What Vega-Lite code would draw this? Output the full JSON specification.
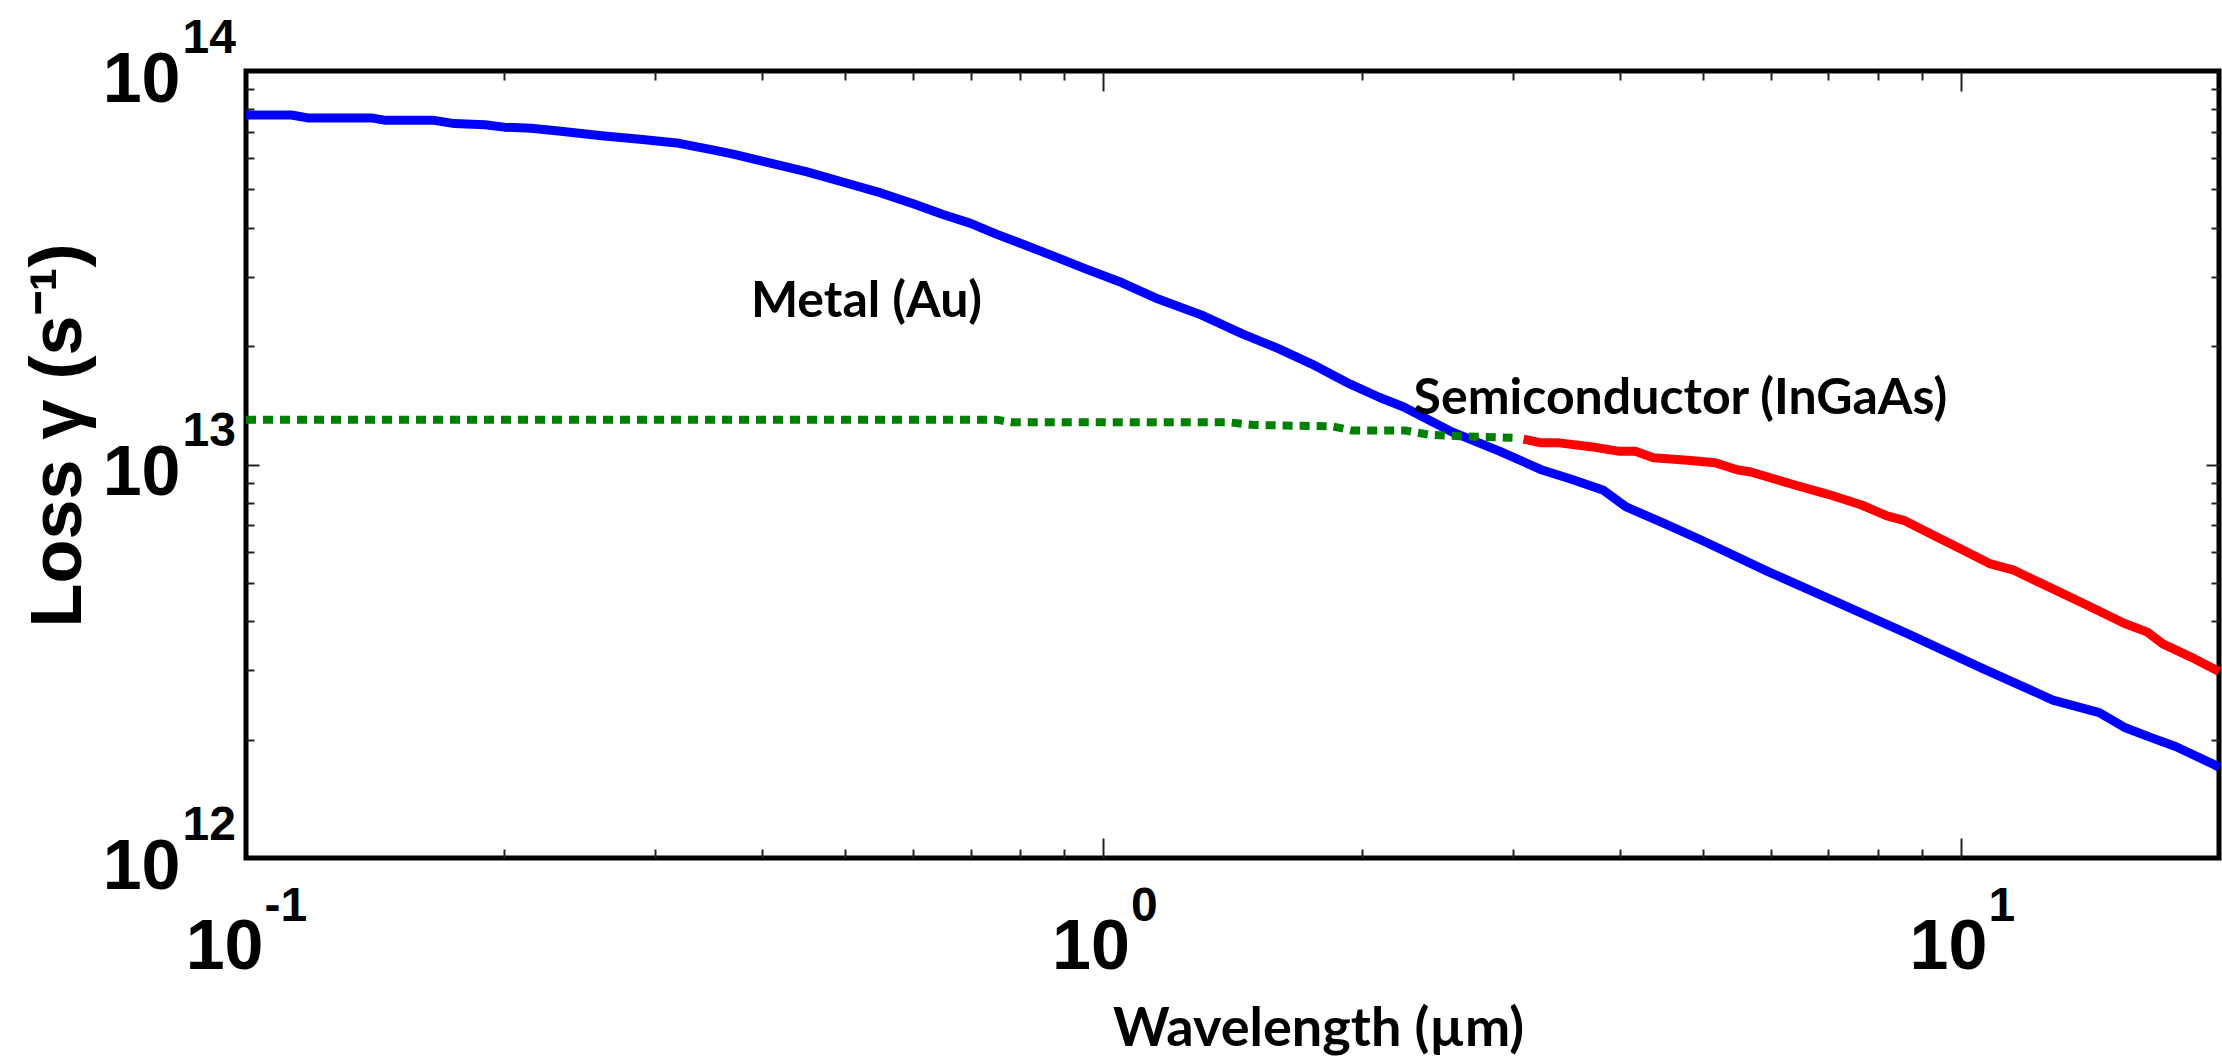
{
  "$schema": "https://vega.github.io/schema/vega-lite/v6.json",
  "width": 1973,
  "height": 787,
  "autosize": {"type": "none"},
  "padding": {"left": 246, "top": 71, "right": 3, "bottom": 206},
  "background": "white",
  "config": {
    "view": {"stroke": "black", "strokeWidth": 5},
    "axis": {"grid": false, "domain": false, "labelFlush": false, "labelOverlap": false, "labelBound": false, "labelColor": "black", "titleColor": "black", "labelFont": "Liberation Sans", "labelFontWeight": "bold"}
  },
  "datasets": {
    "curves": [
      {"series": "metal", "wavelength": 0.1, "loss": 7.73e13},
      {"series": "metal", "wavelength": 0.113, "loss": 7.73e13},
      {"series": "metal", "wavelength": 0.118, "loss": 7.6e13},
      {"series": "metal", "wavelength": 0.14, "loss": 7.6e13},
      {"series": "metal", "wavelength": 0.145, "loss": 7.5e13},
      {"series": "metal", "wavelength": 0.165, "loss": 7.5e13},
      {"series": "metal", "wavelength": 0.175, "loss": 7.35e13},
      {"series": "metal", "wavelength": 0.19, "loss": 7.3e13},
      {"series": "metal", "wavelength": 0.2, "loss": 7.2e13},
      {"series": "metal", "wavelength": 0.215, "loss": 7.15e13},
      {"series": "metal", "wavelength": 0.23, "loss": 7.05e13},
      {"series": "metal", "wavelength": 0.26, "loss": 6.85e13},
      {"series": "metal", "wavelength": 0.29, "loss": 6.7e13},
      {"series": "metal", "wavelength": 0.32, "loss": 6.55e13},
      {"series": "metal", "wavelength": 0.35, "loss": 6.3e13},
      {"series": "metal", "wavelength": 0.37, "loss": 6.15e13},
      {"series": "metal", "wavelength": 0.4, "loss": 5.9e13},
      {"series": "metal", "wavelength": 0.45, "loss": 5.55e13},
      {"series": "metal", "wavelength": 0.5, "loss": 5.2e13},
      {"series": "metal", "wavelength": 0.55, "loss": 4.9e13},
      {"series": "metal", "wavelength": 0.6, "loss": 4.6e13},
      {"series": "metal", "wavelength": 0.65, "loss": 4.32e13},
      {"series": "metal", "wavelength": 0.7, "loss": 4.1e13},
      {"series": "metal", "wavelength": 0.75, "loss": 3.85e13},
      {"series": "metal", "wavelength": 0.8, "loss": 3.65e13},
      {"series": "metal", "wavelength": 0.87, "loss": 3.4e13},
      {"series": "metal", "wavelength": 0.95, "loss": 3.15e13},
      {"series": "metal", "wavelength": 1.05, "loss": 2.9e13},
      {"series": "metal", "wavelength": 1.15, "loss": 2.65e13},
      {"series": "metal", "wavelength": 1.3, "loss": 2.4e13},
      {"series": "metal", "wavelength": 1.45, "loss": 2.15e13},
      {"series": "metal", "wavelength": 1.6, "loss": 1.97e13},
      {"series": "metal", "wavelength": 1.75, "loss": 1.8e13},
      {"series": "metal", "wavelength": 1.94, "loss": 1.6e13},
      {"series": "metal", "wavelength": 2.1, "loss": 1.48e13},
      {"series": "metal", "wavelength": 2.24, "loss": 1.4e13},
      {"series": "metal", "wavelength": 2.55, "loss": 1.21e13},
      {"series": "metal", "wavelength": 2.9, "loss": 1.08e13},
      {"series": "metal", "wavelength": 3.24, "loss": 9.7e12},
      {"series": "metal", "wavelength": 3.5, "loss": 9.2e12},
      {"series": "metal", "wavelength": 3.83, "loss": 8.6e12},
      {"series": "metal", "wavelength": 4.07, "loss": 7.8e12},
      {"series": "metal", "wavelength": 4.5, "loss": 7.1e12},
      {"series": "metal", "wavelength": 5.0, "loss": 6.4e12},
      {"series": "metal", "wavelength": 5.95, "loss": 5.35e12},
      {"series": "metal", "wavelength": 7.2, "loss": 4.45e12},
      {"series": "metal", "wavelength": 8.7, "loss": 3.7e12},
      {"series": "metal", "wavelength": 10.5, "loss": 3.06e12},
      {"series": "metal", "wavelength": 11.5, "loss": 2.8e12},
      {"series": "metal", "wavelength": 12.8, "loss": 2.52e12},
      {"series": "metal", "wavelength": 14.5, "loss": 2.34e12},
      {"series": "metal", "wavelength": 15.5, "loss": 2.15e12},
      {"series": "metal", "wavelength": 16.7, "loss": 2.02e12},
      {"series": "metal", "wavelength": 17.8, "loss": 1.92e12},
      {"series": "metal", "wavelength": 19.6, "loss": 1.74e12},
      {"series": "metal", "wavelength": 20, "loss": 1.7e12},
      {"series": "semi_low", "wavelength": 0.1, "loss": 1.3e13},
      {"series": "semi_low", "wavelength": 0.75, "loss": 1.3e13},
      {"series": "semi_low", "wavelength": 0.78, "loss": 1.28e13},
      {"series": "semi_low", "wavelength": 1.4, "loss": 1.28e13},
      {"series": "semi_low", "wavelength": 1.5, "loss": 1.26e13},
      {"series": "semi_low", "wavelength": 1.85, "loss": 1.25e13},
      {"series": "semi_low", "wavelength": 1.95, "loss": 1.22e13},
      {"series": "semi_low", "wavelength": 2.25, "loss": 1.22e13},
      {"series": "semi_low", "wavelength": 2.4, "loss": 1.19e13},
      {"series": "semi_low", "wavelength": 2.6, "loss": 1.18e13},
      {"series": "semi_low", "wavelength": 3.0, "loss": 1.17e13},
      {"series": "semi_high", "wavelength": 3.09, "loss": 1.16e13},
      {"series": "semi_high", "wavelength": 3.24, "loss": 1.135e13},
      {"series": "semi_high", "wavelength": 3.4, "loss": 1.135e13},
      {"series": "semi_high", "wavelength": 3.7, "loss": 1.11e13},
      {"series": "semi_high", "wavelength": 4.0, "loss": 1.08e13},
      {"series": "semi_high", "wavelength": 4.17, "loss": 1.08e13},
      {"series": "semi_high", "wavelength": 4.38, "loss": 1.04e13},
      {"series": "semi_high", "wavelength": 4.8, "loss": 1.025e13},
      {"series": "semi_high", "wavelength": 5.17, "loss": 1.01e13},
      {"series": "semi_high", "wavelength": 5.48, "loss": 9.7e12},
      {"series": "semi_high", "wavelength": 5.69, "loss": 9.57e12},
      {"series": "semi_high", "wavelength": 6.4, "loss": 8.87e12},
      {"series": "semi_high", "wavelength": 7.0, "loss": 8.4e12},
      {"series": "semi_high", "wavelength": 7.66, "loss": 7.89e12},
      {"series": "semi_high", "wavelength": 8.2, "loss": 7.4e12},
      {"series": "semi_high", "wavelength": 8.6, "loss": 7.2e12},
      {"series": "semi_high", "wavelength": 9.3, "loss": 6.6e12},
      {"series": "semi_high", "wavelength": 10, "loss": 6.1e12},
      {"series": "semi_high", "wavelength": 10.8, "loss": 5.6e12},
      {"series": "semi_high", "wavelength": 11.5, "loss": 5.4e12},
      {"series": "semi_high", "wavelength": 12.5, "loss": 4.95e12},
      {"series": "semi_high", "wavelength": 14, "loss": 4.4e12},
      {"series": "semi_high", "wavelength": 15.5, "loss": 3.95e12},
      {"series": "semi_high", "wavelength": 16.5, "loss": 3.75e12},
      {"series": "semi_high", "wavelength": 17.2, "loss": 3.5e12},
      {"series": "semi_high", "wavelength": 18.5, "loss": 3.25e12},
      {"series": "semi_high", "wavelength": 20, "loss": 2.98e12}
    ],
    "notes": [
      {"note": "Metal (Au)", "wavelength": 0.388, "loss": 2.37e13},
      {"note": "Semiconductor (InGaAs)", "wavelength": 2.3, "loss": 1.34e13}
    ]
  },
  "resolve": {"axis": {"x": "independent", "y": "independent"}},
  "layer": [
    {
      "data": {"name": "curves"},
      "transform": [{"filter": "datum.series == 'metal'"}],
      "mark": {"type": "line", "color": "#0000ff", "strokeWidth": 9, "strokeCap": "butt", "strokeJoin": "round"},
      "encoding": {
        "x": {"field": "wavelength", "type": "quantitative", "scale": {"type": "log", "domain": [0.1, 20], "nice": false},
          "axis": {"orient": "bottom", "values": [0.1, 1, 10], "labelExpr": "'10'", "ticks": false, "tickSize": 0,
            "labelFontSize": 70, "labelAlign": "right", "labelBaseline": "alphabetic", "labelPadding": 110,
            "labelOffset": {"condition": {"test": "datum.value < 0.5", "value": 17}, "value": 26},
            "title": "Wavelength (µm)", "titleFont": "Lato", "titleFontWeight": "bold", "titleFontSize": 54,
            "titleX": 1072, "titleY": 187, "titleAlign": "center", "titleBaseline": "alphabetic"}},
        "y": {"field": "loss", "type": "quantitative", "scale": {"type": "log", "domain": [1e12, 1e14], "nice": false},
          "axis": {"orient": "left", "values": [1e12, 1e13, 1e14], "labelExpr": "'10'", "ticks": false, "tickSize": 0,
            "labelFontSize": 70, "labelAlign": "right", "labelBaseline": "alphabetic", "labelPadding": 66, "labelOffset": 30,
            "title": "Loss γ (s⁻¹)", "titleFont": "Liberation Sans", "titleFontWeight": "bold", "titleFontSize": 72,
            "titleAngle": 270, "titleX": -166, "titleY": 364, "titleAlign": "center", "titleBaseline": "alphabetic"}}
      }
    },
    {
      "data": {"name": "curves"},
      "transform": [{"filter": "datum.series == 'semi_low'"}],
      "mark": {"type": "line", "color": "#008000", "strokeWidth": 8, "strokeDash": [10, 7], "strokeCap": "butt"},
      "encoding": {
        "x": {"field": "wavelength", "type": "quantitative", "scale": {"type": "log", "domain": [0.1, 20], "nice": false},
          "axis": {"orient": "bottom", "values": [0.1, 1, 10], "labelExpr": "datum.value < 0.5 ? '-1' : (datum.value < 5 ? '0' : '1')",
            "ticks": false, "tickSize": 0, "labelFontSize": 48, "labelAlign": "left", "labelBaseline": "alphabetic",
            "labelPadding": 62,
            "labelOffset": {"condition": {"test": "datum.value < 0.5", "value": 18}, "value": 27},
            "title": null}},
        "y": {"field": "loss", "type": "quantitative", "scale": {"type": "log", "domain": [1e12, 1e14], "nice": false},
          "axis": {"orient": "left", "values": [1e12, 1e13, 1e14], "labelExpr": "datum.value < 5e12 ? '12' : (datum.value < 5e13 ? '13' : '14')",
            "ticks": false, "tickSize": 0, "labelFontSize": 48, "labelAlign": "left", "labelBaseline": "alphabetic",
            "labelPadding": 64, "labelOffset": -19, "title": null}}
      }
    },
    {
      "data": {"name": "curves"},
      "transform": [{"filter": "datum.series == 'semi_high'"}],
      "mark": {"type": "line", "color": "#ff0000", "strokeWidth": 9, "strokeCap": "butt", "strokeJoin": "round"},
      "encoding": {
        "x": {"field": "wavelength", "type": "quantitative", "scale": {"type": "log", "domain": [0.1, 20], "nice": false},
          "axis": {"orient": "bottom", "values": [0.2, 0.3, 0.4, 0.5, 0.6, 0.7, 0.8, 0.9, 1, 2, 3, 4, 5, 6, 7, 8, 9, 10],
            "labels": false, "ticks": true, "tickColor": "#222222", "tickWidth": 2,
            "tickSize": {"condition": {"test": "datum.value == 1 || datum.value == 10", "value": -20}, "value": -9},
            "title": null}},
        "y": {"field": "loss", "type": "quantitative", "scale": {"type": "log", "domain": [1e12, 1e14], "nice": false},
          "axis": {"orient": "left", "values": [2e12, 3e12, 4e12, 5e12, 6e12, 7e12, 8e12, 9e12, 1e13, 2e13, 3e13, 4e13, 5e13, 6e13, 7e13, 8e13, 9e13],
            "labels": false, "ticks": true, "tickColor": "#222222", "tickWidth": 2,
            "tickSize": {"condition": {"test": "datum.value == 1e13", "value": -13}, "value": -8},
            "title": null}}
      }
    },
    {
      "data": {"name": "notes"},
      "mark": {"type": "text", "font": "Lato", "fontWeight": "bold", "fontSize": 50, "align": "left", "baseline": "alphabetic", "color": "black"},
      "encoding": {
        "text": {"field": "note", "type": "nominal"},
        "x": {"field": "wavelength", "type": "quantitative", "scale": {"type": "log", "domain": [0.1, 20], "nice": false},
          "axis": {"orient": "top", "values": [0.2, 0.3, 0.4, 0.5, 0.6, 0.7, 0.8, 0.9, 1, 2, 3, 4, 5, 6, 7, 8, 9, 10],
            "labels": false, "ticks": true, "tickColor": "#222222", "tickWidth": 2,
            "tickSize": {"condition": {"test": "datum.value == 1 || datum.value == 10", "value": -20}, "value": -9},
            "title": null}},
        "y": {"field": "loss", "type": "quantitative", "scale": {"type": "log", "domain": [1e12, 1e14], "nice": false},
          "axis": {"orient": "right", "values": [2e12, 3e12, 4e12, 5e12, 6e12, 7e12, 8e12, 9e12, 1e13, 2e13, 3e13, 4e13, 5e13, 6e13, 7e13, 8e13, 9e13],
            "labels": false, "ticks": true, "tickColor": "#222222", "tickWidth": 2,
            "tickSize": {"condition": {"test": "datum.value == 1e13", "value": -13}, "value": -8},
            "title": null}}
      }
    }
  ]
}
